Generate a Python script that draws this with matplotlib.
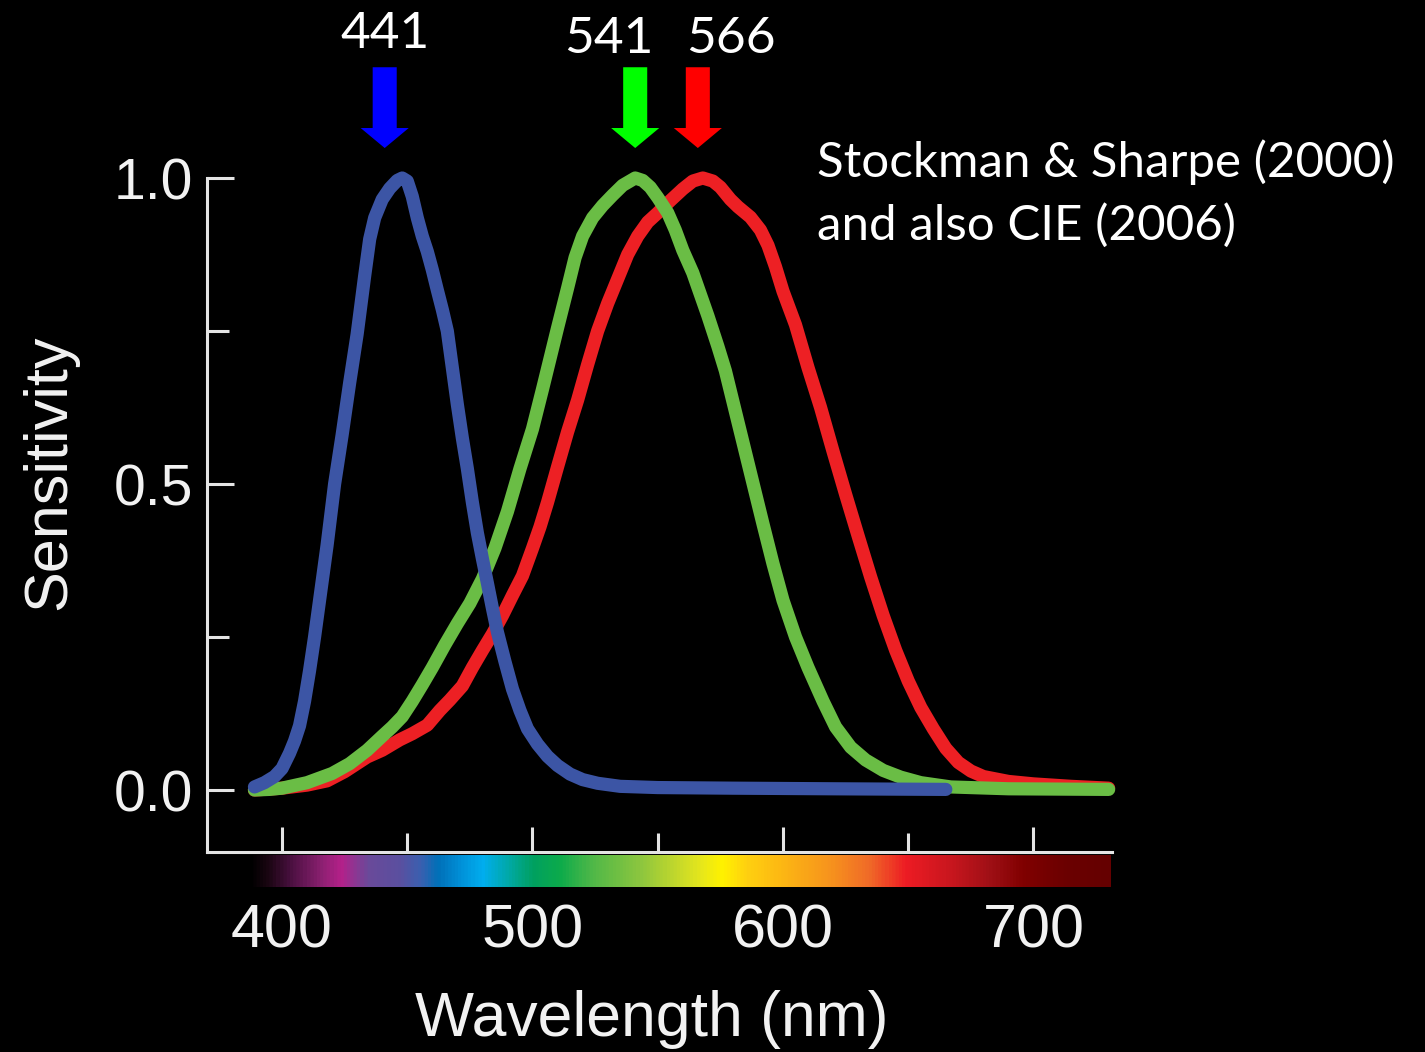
import matplotlib
matplotlib.use("Agg")
import matplotlib.pyplot as plt
import numpy as np
from matplotlib.colors import LinearSegmentedColormap
from matplotlib.ticker import MultipleLocator

plt.rcParams["font.family"] = ["Liberation Sans", "DejaVu Sans"]

# cone fundamentals, read at irregular wavelengths (nm)
S_NM = [389, 393, 397, 400, 403, 405, 407, 409, 411, 413, 415, 418, 421, 424, 427, 430, 433,
        435, 437, 440, 443, 446, 448, 450, 452, 454, 456, 458, 460, 462, 464, 466, 468, 470,
        472, 474, 476, 478, 480, 482, 484, 486, 489, 492, 495, 498, 502, 506, 510, 515, 520,
        526, 535, 550, 580, 620, 665]
S_SENS = [0.005, 0.012, 0.022, 0.035, 0.06, 0.08, 0.105, 0.145, 0.195, 0.25, 0.31, 0.4, 0.5,
          0.58, 0.665, 0.745, 0.84, 0.9, 0.935, 0.965, 0.983, 0.996, 1.0, 0.995, 0.97, 0.935,
          0.905, 0.88, 0.85, 0.817, 0.785, 0.75, 0.69, 0.63, 0.575, 0.525, 0.47, 0.42, 0.378,
          0.338, 0.297, 0.258, 0.21, 0.165, 0.13, 0.1, 0.075, 0.055, 0.04, 0.026, 0.017, 0.011,
          0.006, 0.004, 0.003, 0.002, 0.001]

M_NM = [389, 395, 400, 410, 420, 427, 434, 440, 444, 448, 452, 456, 460, 465, 470, 475, 480,
        485, 490, 495, 500, 504, 507, 510, 514, 517, 520, 524, 528, 532, 536, 541, 544, 547,
        550, 554, 557, 560, 564, 567, 570, 574, 577, 580, 583, 586, 589, 592, 596, 600, 605,
        610, 616, 621, 627, 633, 640, 647, 655, 667, 690, 730]
M_SENS = [0.0, 0.001, 0.003, 0.012, 0.027, 0.043, 0.065, 0.088, 0.103, 0.12, 0.145, 0.172, 0.2,
          0.237, 0.272, 0.305, 0.345, 0.395, 0.455, 0.525, 0.59, 0.655, 0.705, 0.755, 0.82,
          0.87, 0.905, 0.935, 0.955, 0.972, 0.988, 1.0, 0.996, 0.985, 0.968, 0.943, 0.915,
          0.882, 0.845, 0.81, 0.775, 0.725, 0.685, 0.635, 0.585, 0.535, 0.485, 0.435, 0.37,
          0.31, 0.25, 0.2, 0.145, 0.103, 0.07, 0.049, 0.032, 0.021, 0.012, 0.005, 0.002, 0.001]

L_NM = [389, 400, 410, 418, 425, 434, 440, 447, 452, 458, 463, 467, 472, 476, 480, 484, 488,
        492, 496, 500, 503, 506, 510, 514, 518, 522, 526, 530, 534, 538, 542, 546, 550, 555,
        560, 564, 568, 572, 575, 579, 582, 587, 591, 594, 597, 600, 605, 610, 615, 620, 625,
        630, 635, 640, 645, 650, 655, 660, 665, 670, 675, 680, 690, 700, 715, 730]
L_SENS = [0.0, 0.003, 0.008, 0.015, 0.03, 0.054, 0.065, 0.082, 0.092, 0.106, 0.13, 0.147, 0.17,
          0.2, 0.228, 0.255, 0.285, 0.318, 0.35, 0.395, 0.43, 0.47, 0.528, 0.585, 0.637, 0.695,
          0.75, 0.795, 0.835, 0.875, 0.905, 0.928, 0.943, 0.963, 0.982, 0.995, 1.0, 0.995,
          0.985, 0.965, 0.953, 0.936, 0.915, 0.89, 0.855, 0.815, 0.76, 0.69, 0.625, 0.553,
          0.483, 0.415, 0.348, 0.285, 0.228, 0.178, 0.135, 0.1, 0.068, 0.045, 0.031, 0.022,
          0.014, 0.01, 0.006, 0.003]

PEAKS = [441, 541, 566]
PEAK_LABELS = ["441", "541", "566"]

# visible spectrum strip under the axis
SPEC_NM = [387, 394, 403, 415, 423, 434, 447, 455, 462, 471, 480, 492, 500, 511, 524, 543,
           559, 568, 576, 586, 599, 619, 635, 649.5, 668, 683, 697, 714, 731]
SPEC_COLORS = ["#000000", "#1a0612", "#4a1040", "#8a2070", "#b5208a", "#6a4a9a", "#5a50a0",
               "#3a60b0", "#0070b8", "#0090d8", "#00aeef", "#00a89a", "#00a060", "#0dab4b",
               "#50b848", "#8cc63f", "#c8da2a", "#e8e81a", "#fff200", "#ffd010", "#fdb913",
               "#f7941d", "#f06a28", "#ed1c24", "#c8161e", "#a01016", "#800000", "#6b0000",
               "#650000"]

CURVE_BLUE = "#3c55a5"
CURVE_GREEN = "#6abd45"
CURVE_RED = "#ed2024"
ARROW_COLORS = ["#0000ff", "#00ff00", "#ff0000"]
LABEL_SHIFT = [(0, 13.5), (-19, 10), (24, 10)]  # points, label offset from its arrow top
AXIS_COLOR = "#e4e4e4"

fig = plt.figure(figsize=(14.25, 10.52), dpi=100, facecolor="black")
ax = fig.add_axes([0.14526, 0.19011, 0.63509, 0.64068], facecolor="black")
ax.set_xlim(370.06, 731.34)
ax.set_ylim(-0.1013, 1.0)

line_kw = dict(lw=9.5, solid_capstyle="round", solid_joinstyle="round", clip_on=False)
ax.plot(L_NM, L_SENS, color=CURVE_RED, zorder=2, **line_kw)
ax.plot(M_NM, M_SENS, color=CURVE_GREEN, zorder=3, **line_kw)
ax.plot(S_NM, S_SENS, color=CURVE_BLUE, zorder=4, **line_kw)

# peak arrows and labels above the plot
for peak, label, col, (dx, dy) in zip(PEAKS, PEAK_LABELS, ARROW_COLORS, LABEL_SHIFT):
    ax.arrow(peak, 1.181, 0, -0.132, width=9.6, head_width=19.2, head_length=0.0327,
             length_includes_head=True, color=col, lw=0, clip_on=False, zorder=5)
    ax.annotate(label, xy=(peak, 1.181), xytext=(dx, dy), textcoords="offset points",
                ha="center", va="baseline", color="white", fontsize=37, family="Lato",
                annotation_clip=False)

for side in ["top", "right"]:
    ax.spines[side].set_visible(False)
for side in ["left", "bottom"]:
    ax.spines[side].set_color(AXIS_COLOR)
    ax.spines[side].set_linewidth(2.2)

ax.xaxis.set_major_locator(MultipleLocator(100))
ax.xaxis.set_minor_locator(MultipleLocator(50))
ax.yaxis.set_major_locator(MultipleLocator(0.5))
ax.yaxis.set_minor_locator(MultipleLocator(0.25))
ax.tick_params(axis="both", which="both", direction="in", color=AXIS_COLOR, width=2.2,
               labelcolor="#f2f2f2")
ax.tick_params(axis="x", which="major", length=18, pad=37, labelsize=44)
ax.tick_params(axis="x", which="minor", length=14)
ax.tick_params(axis="y", which="major", length=19.5, pad=10, labelsize=41)
ax.tick_params(axis="y", which="minor", length=16)

# spectrum strip
sax = fig.add_axes([0.14526, 0.1568, 0.63509, 0.0304])
spec_cmap = LinearSegmentedColormap.from_list(
    "spectrum",
    [((nm - SPEC_NM[0]) / (SPEC_NM[-1] - SPEC_NM[0]), c) for nm, c in zip(SPEC_NM, SPEC_COLORS)],
)
sax.imshow(np.linspace(0, 1, 800)[None, :], cmap=spec_cmap, aspect="auto",
           extent=[SPEC_NM[0], SPEC_NM[-1], 0, 1])
sax.set_xlim(ax.get_xlim())
sax.axis("off")

fig.text(652 / 1425, 0.0152, "Wavelength (nm)", ha="center", va="baseline", color="#f2f2f2",
         fontsize=45)
fig.text(50 / 1425, (1052 - 472) / 1052, "Sensitivity", rotation=90, ha="center", va="center",
         color="#f2f2f2", fontsize=44)

fig.text(817 / 1425, (1052 - 177) / 1052, "Stockman & Sharpe (2000)", ha="left", va="baseline",
         color="white", fontsize=35.5, family="Lato")
fig.text(817 / 1425, (1052 - 240) / 1052, "and also CIE (2006)", ha="left", va="baseline",
         color="white", fontsize=35.5, family="Lato")

fig.savefig("out.png", dpi=100, facecolor="black")
